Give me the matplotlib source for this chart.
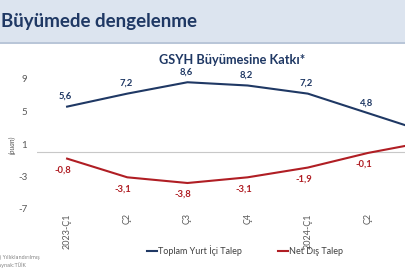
import matplotlib.pyplot as plt
from matplotlib.patches import Rectangle

quarters = ['2023-Ç1', 'Ç2', 'Ç3', 'Ç4', '2024-Ç1', 'Ç2', 'Ç3']
domestic = [5.6, 7.2, 8.6, 8.2, 7.2, 4.8, 2.4]
net_ext = [-0.8, -3.1, -3.8, -3.1, -1.9, -0.1, 1.3]
yticks = [9, 5, 1, -3, -7]

navy = '#1F3864'
red = '#B01E24'

W, H = 405, 270
fig = plt.figure(figsize=(W / 100, H / 100), dpi=100)
fig.patch.set_facecolor('white')

# header band
fig.patches.append(Rectangle((0, 1 - 42 / H), 1, 42 / H, transform=fig.transFigure,
                             facecolor='#DCE4EF', edgecolor='none', zorder=0))
fig.patches.append(Rectangle((0, 1 - 44 / H), 1, 2 / H, transform=fig.transFigure,
                             facecolor='#B9C6D8', edgecolor='none', zorder=0))
fig.text(0.002, 1 - 22 / H, 'Büyümede dengelenme', fontsize=13.5, fontweight='bold',
         color=navy, family='Lato', va='center', ha='left')
fig.text(232 / W, 1 - 60 / H, 'GSYH Büyümesine Katkı*', fontsize=9.2, fontweight='bold',
         color=navy, family='Lato', va='center', ha='center')

ax = fig.add_axes([37 / W, 1 - 209 / H, 1 - 37 / W, (209 - 62.75) / H])
x = list(range(len(quarters)))
ax.plot(x, domestic, color=navy, lw=1.5, solid_joinstyle='round')
ax.plot(x, net_ext, color=red, lw=1.5, solid_joinstyle='round')
ax.axhline(0, color='#C8C8C8', lw=0.8, zorder=0)

for i in range(len(quarters) - 1):
    ax.annotate(f'{domestic[i]:.1f}'.replace('.', ','), (x[i], domestic[i]),
                xytext=(-1, 4), textcoords='offset points', ha='center', va='bottom',
                fontsize=6.8, fontweight='bold', color=navy, family='Lato')
    ax.annotate(f'{net_ext[i]:.1f}'.replace('.', ','), (x[i], net_ext[i]),
                xytext=(-3, -5), textcoords='offset points', ha='center', va='top',
                fontsize=6.8, fontweight='bold', color=red, family='Lato')

ax.set_xlim(-0.5, (W - 67) / 60.2)
ax.set_ylim(-7, 11)
ax.set_yticks(yticks)
ax.set_yticklabels([str(v) for v in yticks], fontsize=7, color='#595959', family='Lato')
# last quarter lies beyond the visible crop, so only label the visible ones
ax.set_xticks(x[:-1])
ax.set_xticklabels(quarters[:-1], rotation=90, fontsize=6.5, color='#595959', family='Lato',
                   va='top')
ax.tick_params(length=0, pad=7)
ax.tick_params(axis='x', pad=3)
for s in ax.spines.values():
    s.set_visible(False)

fig.text(12 / W, 1 - 145 / H, '(puan)', rotation=90, fontsize=5, color='#595959',
         style='italic', va='center', ha='center', family='Lato')

# legend
fig.lines.append(plt.Line2D([147 / W, 157 / W], [1 - 251 / H] * 2, transform=fig.transFigure,
                            color=navy, lw=1.5))
fig.text(158 / W, 1 - 251 / H, 'Toplam Yurt İçi Talep', fontsize=6.5, color='#404040',
         va='center', ha='left', family='Lato')
fig.lines.append(plt.Line2D([278 / W, 288 / W], [1 - 251 / H] * 2, transform=fig.transFigure,
                            color=red, lw=1.5))
fig.text(289 / W, 1 - 251 / H, 'Net Dış Talep', fontsize=6.5, color='#404040',
         va='center', ha='left', family='Lato')

# footnote (cut off at the left edge, as in the source slide)
fig.text(-0.012, 1 - 258 / H, '(*) Yıllıklandırılmış', fontsize=3.5, color='#808080',
         va='center', ha='left')
fig.text(-0.012, 1 - 265 / H, 'Kaynak:TÜİK', fontsize=3.5, color='#808080',
         va='center', ha='left')

fig.savefig('out.png', dpi=100)
